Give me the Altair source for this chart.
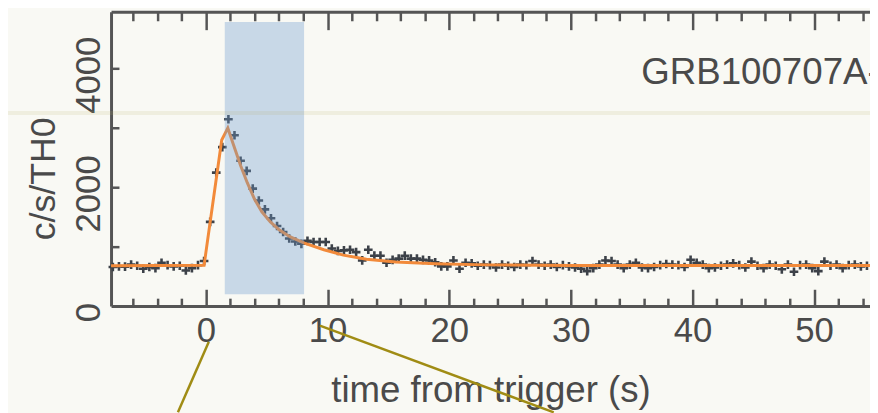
import altair as alt
import pandas as pd

# ---------------- data ----------------
time_s = [
    -7.65, -7.15, -6.65, -6.15, -5.65, -5.15, -4.65, -4.15, -3.65, -3.15,
    -2.65, -2.15, -1.65, -1.15, -0.65, -0.15, 0.35, 0.85, 1.35, 1.85,
    2.35, 2.85, 3.35, 3.85, 4.35, 4.85, 5.35, 5.85, 6.35, 6.85,
    7.35, 7.85, 8.35, 8.85, 9.35, 9.85, 10.35, 10.85, 11.35, 11.85,
    12.35, 12.85, 13.35, 13.85, 14.35, 14.85, 15.35, 15.85, 16.35, 16.85,
    17.35, 17.85, 18.35, 18.85, 19.35, 19.85, 20.35, 20.85, 21.35, 21.85,
    22.35, 22.85, 23.35, 23.85, 24.35, 24.85, 25.35, 25.85, 26.35, 26.85,
    27.35, 27.85, 28.35, 28.85, 29.35, 29.85, 30.35, 30.85, 31.35, 31.85,
    32.35, 32.85, 33.35, 33.85, 34.35, 34.85, 35.35, 35.85, 36.35, 36.85,
    37.35, 37.85, 38.35, 38.85, 39.35, 39.85, 40.35, 40.85, 41.35, 41.85,
    42.35, 42.85, 43.35, 43.85, 44.35, 44.85, 45.35, 45.85, 46.35, 46.85,
    47.35, 47.85, 48.35, 48.85, 49.35, 49.85, 50.35, 50.85, 51.35, 51.85,
    52.35, 52.85, 53.35, 53.85, 54.35,
]
rate = [
    660, 670, 665, 700, 680, 630, 660, 640, 730, 690,
    670, 680, 600, 640, 690, 760, 1420, 2250, 2680, 3150,
    2880, 2450, 2280, 1980, 1780, 1630, 1480, 1350, 1250, 1140,
    1090, 1050, 1100, 1080, 1080, 1080, 970, 930, 940, 950,
    910, 770, 950, 850, 850, 730, 780, 800, 850, 800,
    800, 780, 770, 740, 670, 670, 770, 630, 730, 720,
    680, 700, 690, 650, 700, 680, 660, 700, 690, 760,
    700, 680, 700, 660, 690, 670, 650, 630, 590, 640,
    700, 770, 760, 700, 640, 700, 730, 650, 640, 660,
    690, 710, 700, 690, 660, 780, 730, 700, 640, 650,
    680, 700, 720, 690, 650, 750, 680, 640, 700, 680,
    620, 700, 580, 690, 700, 640, 590, 750, 680, 700,
    640, 690, 700, 670, 680,
]

model_t = [-7.8, -0.15, 1.3, 1.8, 2.3, 2.85, 3.4, 4.0, 4.6, 5.3, 6.0, 6.9,
           8.1, 9.7, 11.3, 13.2, 15.6, 18.9, 23.0, 30.0, 40.0, 54.6]
model_rate = [680, 690, 2800, 3000, 2700, 2370, 2080, 1800, 1590, 1420, 1290, 1170,
              1060, 950, 860, 790, 745, 715, 695, 685, 683, 683]

interval_t = [1.55, 8.07]
interval_rate = [200, 4790]

label_text = ["GRB100707A-"]
label_t = [35.8]
label_rate = [3740]

# decorative slide annotation lines (from, to)
ann_t1 = [0.24, 9.37]
ann_r1 = [-600, -330]
ann_t2 = [-2.3, 28.6]
ann_r2 = [-1790, -1790]

band_t = [-17.0, 56.0]
band_rate = [3255]

x_major = [0, 10, 20, 30, 40, 50]
x_minor = [-6, -4, -2, 2, 4, 6, 8, 12, 14, 16, 18, 22, 24, 26, 28,
           32, 34, 36, 38, 42, 44, 46, 48, 52, 54]
y_labels = [0, 2000, 4000]
y_ticks = [1000, 2000, 3000, 4000]

# ---------------- chart ----------------
W, H = 766, 297
FONT = "Liberation Sans"
TXT = "#4a4a4a"
AXC = "#555555"

xs = alt.Scale(domain=[-7.8, 54.6], nice=False, zero=False)
ys = alt.Scale(domain=[0, 4960], nice=False, zero=False)

pts_df = pd.DataFrame({"t": time_s, "rate": rate})
mod_df = pd.DataFrame({"t": model_t, "rate": model_rate})
int_df = pd.DataFrame({"t0": [interval_t[0]], "t1": [interval_t[1]],
                       "r0": [interval_rate[0]], "r1": [interval_rate[1]]})
lab_df = pd.DataFrame({"t": label_t, "rate": label_rate, "txt": label_text})
ann_df = pd.DataFrame({"a": ann_t1, "ra": ann_r1, "b": ann_t2, "rb": ann_r2})
band_df = pd.DataFrame({"a": [band_t[0]], "b": [band_t[1]], "r": band_rate})

ax_bottom = alt.Axis(values=x_major, orient="bottom", domain=True, domainColor=AXC,
                     domainWidth=3, ticks=False, tickSize=0, labelFontSize=35,
                     labelColor=TXT, labelPadding=36, labelBaseline="alphabetic",
                     labelAngle=0, format="d", title="time from trigger (s)",
                     titleFontSize=37, titleFontWeight="normal", titleColor=TXT,
                     titleX=383, titleY=96, titleBaseline="alphabetic",
                     titleAlign="center", titleAngle=0)
ax_left = alt.Axis(values=y_labels, orient="left", domain=True, domainColor=AXC,
                   domainWidth=3, ticks=False, tickSize=0, labelFontSize=35,
                   labelColor=TXT, labelPadding=12, labelAngle=270, format="d",
                   labelAlign="center", labelBaseline="alphabetic", labelOffset=6,
                   title="c/s/TH0", titleFontSize=36, titleFontWeight="normal",
                   titleColor=TXT, titleX=-57, titleY=168, titleAngle=270,
                   titleAlign="center", titleBaseline="alphabetic")


def tick_axis(vals, orient, offset, size):
    return alt.Axis(values=vals, orient=orient, offset=offset, tickSize=size,
                    tickWidth=2.5, tickColor=AXC, labels=False, domain=False, title="")


points = alt.Chart(pts_df).mark_point(
    shape="M-1,0L1,0M0,-1L0,1", filled=False, size=76, strokeWidth=2.6,
    color="#3c4148", opacity=1
).encode(
    x=alt.X("t:Q", scale=xs, axis=ax_bottom),
    y=alt.Y("rate:Q", scale=ys, axis=ax_left),
)

model = alt.Chart(mod_df).mark_line(color="#f28a3a", strokeWidth=3).encode(
    x=alt.X("t:Q", scale=xs, axis=tick_axis(x_major, "top", -H, 17)),
    y=alt.Y("rate:Q", scale=ys, axis=tick_axis(y_ticks, "right", -W, 8)),
)

rect = alt.Chart(int_df).mark_rect(color="#6e9ccd", opacity=0.35).encode(
    x=alt.X("t0:Q", scale=xs, axis=tick_axis(x_minor, "top", -H, 8)),
    x2="t1:Q",
    y=alt.Y("r0:Q", scale=ys, axis=None),
    y2="r1:Q",
)

band = alt.Chart(band_df).mark_rule(color="#b5ae6a", strokeWidth=4, opacity=0.15).encode(
    x=alt.X("a:Q", scale=xs, axis=None),
    x2="b:Q",
    y=alt.Y("r:Q", scale=ys, axis=None),
)

label = alt.Chart(lab_df).mark_text(
    align="left", baseline="alphabetic", fontSize=37, font=FONT, color=TXT
).encode(
    x=alt.X("t:Q", scale=xs, axis=alt.Axis(values=x_major, orient="bottom", offset=-H,
                                            tickSize=18, tickWidth=2.5, tickColor=AXC,
                                            labels=False, domain=True, domainColor=AXC,
                                            domainWidth=3, title="")),
    y=alt.Y("rate:Q", scale=ys, axis=None),
    text="txt:N",
)

ann = alt.Chart(ann_df).mark_rule(color="#a08c14", strokeWidth=2.5).encode(
    x=alt.X("a:Q", scale=xs, axis=tick_axis(x_minor, "bottom", -H, 9)),
    x2="b:Q",
    y=alt.Y("ra:Q", scale=ys, axis=None),
    y2="rb:Q",
)

chart = alt.layer(points, model, rect, band, label, ann).resolve_axis(
    x="independent", y="independent"
).properties(
    width=W, height=H, background="#f9f9f4",
    padding={"left": 104, "top": 2, "right": 0, "bottom": 106},
    autosize=alt.AutoSizeParams(type="none"),
).configure_view(stroke=None).configure_axis(
    grid=False, labelFont=FONT, titleFont=FONT
)

chart.save("out.html", embed_options={"renderer": "svg", "actions": False})
